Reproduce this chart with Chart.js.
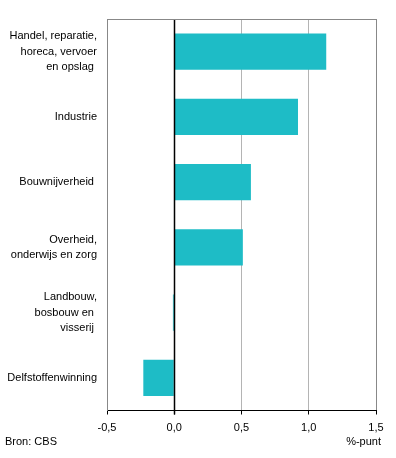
<!DOCTYPE html>
<html>
<head>
<meta charset="utf-8">
<script src="https://cdn.jsdelivr.net/npm/chart.js@4/dist/chart.umd.min.js"></script>
<style>
  html, body { margin: 0; padding: 0; background: #fff; }
  #wrap { position: relative; width: 396px; height: 458px; }
</style>
</head>
<body>
<div id="wrap"><canvas id="myChart" width="396" height="458"></canvas></div>
<script>
// sectors (multi-line labels, trailing spaces as in the original)
const sectors = [
  ["Handel, reparatie,", "horeca, vervoer", "en opslag "],
  ["Industrie"],
  ["Bouwnijverheid "],
  ["Overheid,", "onderwijs en zorg"],
  ["Landbouw,", "bosbouw en ", "visserij "],
  ["Delfstoffenwinning"]
];
// contribution in %-punt
const bijdrage = [1.13, 0.92, 0.57, 0.51, -0.01, -0.23];
const xTicks = [-0.5, 0, 0.5, 1.0, 1.5];

const FONT = "'Liberation Sans', Arial, sans-serif";
const BAR = "#1ebcc6";

// zero line over the bars, top frame line and footer texts
const extras = {
  id: "extras",
  afterDatasetsDraw(chart) {
    const { ctx, chartArea, scales } = chart;
    const x0 = Math.round(scales.x.getPixelForValue(0));
    ctx.save();
    ctx.strokeStyle = "#000";
    ctx.lineWidth = 1.5;
    ctx.beginPath();
    ctx.moveTo(x0 + 0.5, chartArea.top);
    ctx.lineTo(x0 + 0.5, chartArea.bottom + 4);
    ctx.stroke();

    ctx.strokeStyle = "#888";
    ctx.lineWidth = 1;
    ctx.beginPath();
    ctx.moveTo(chartArea.left, chartArea.top + 0.5);
    ctx.lineTo(chartArea.right, chartArea.top + 0.5);
    ctx.stroke();

    ctx.fillStyle = "#000";
    ctx.font = "11px " + FONT;
    ctx.textBaseline = "middle";
    ctx.textAlign = "left";
    ctx.fillText("Bron: CBS", 5, 442);
    ctx.textAlign = "right";
    ctx.fillText("%-punt", 381, 442);
    ctx.restore();
  }
};

const canvas = document.getElementById("myChart");
const ctx = canvas.getContext("2d");

new Chart(ctx, {
  type: "bar",
  data: {
    labels: sectors,
    datasets: [
      {
        data: bijdrage,
        backgroundColor: BAR,
        borderWidth: 0,
        categoryPercentage: 1,
        barPercentage: 0.553
      }
    ]
  },
  options: {
    indexAxis: "y",
    responsive: false,
    animation: false,
    layout: { padding: { top: 19, right: 20, left: 0, bottom: 0 } },
    plugins: {
      legend: { display: false },
      tooltip: { enabled: false }
    },
    scales: {
      x: {
        min: -0.5,
        max: 1.5,
        afterBuildTicks: (scale) => {
          scale.ticks = xTicks.map((v) => ({ value: v }));
        },
        afterFit: (scale) => {
          scale.height = 47.5;
        },
        grid: {
          color: (c) => {
            const v = c.tick ? c.tick.value : null;
            if (v === 0) return "#000";
            if (v === -0.5 || v === 1.5) return "#888";
            return "#b4b4b4";
          },
          lineWidth: 1,
          tickColor: "#000",
          tickLength: 4,
          drawTicks: true
        },
        border: { display: true, color: "#000", width: 1 },
        ticks: {
          color: "#000",
          font: { family: FONT, size: 11 },
          padding: 7,
          maxRotation: 0,
          callback: (v) => Number(v).toFixed(1).replace(".", ",")
        }
      },
      y: {
        afterFit: (scale) => {
          scale.width = 107;
        },
        grid: { display: false, drawTicks: false },
        border: { display: true, color: "#888", width: 1 },
        ticks: {
          color: "#000",
          font: { family: FONT, size: 11, lineHeight: 1.4 },
          padding: 10,
          crossAlign: "near"
        }
      }
    }
  },
  plugins: [extras]
});
</script>
</body>
</html>
